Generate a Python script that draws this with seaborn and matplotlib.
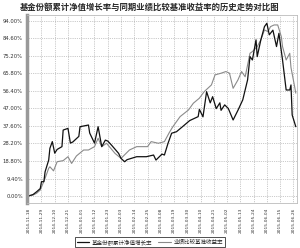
import matplotlib
matplotlib.use('Agg')
import matplotlib.pyplot as plt
import seaborn as sns
import pandas as pd

# days since 2014-11-18, values in %
fund_days = [0, 4, 7, 10, 11, 13, 14, 17, 18, 20, 22, 24, 28, 29, 33, 35, 37, 42, 43, 50,
             51, 55, 58, 61, 64, 66, 69, 75, 77, 80, 82, 90, 98, 104, 106, 111, 113, 116, 119, 123,
             128, 134, 141, 142, 145, 148, 151, 153, 156, 159, 160, 163, 166, 170, 174, 178, 182, 184, 186, 189,
             190, 193, 196, 198, 200, 203, 206, 208, 211, 214, 217, 218, 219, 222]
fund_vals = [0.0, 0.8, 2.3, 4.0, 7.7, 7.7, 13.0, 19.3, 25.6, 29.2, 23.0, 25.0, 26.5, 35.4, 36.3, 28.4, 29.0, 32.0, 37.2, 38.1,
             33.8, 28.4, 37.2, 26.5, 30.0, 29.5, 27.4, 22.9, 20.2, 18.4, 19.5, 21.1, 21.1, 22.0, 19.3, 22.5, 22.0, 28.3, 33.7, 34.5,
             37.2, 40.5, 42.6, 46.5, 42.5, 56.0, 50.0, 53.3, 46.9, 50.0, 46.0, 48.9, 47.0, 40.8, 46.0, 51.6, 62.3, 74.8, 73.0, 83.8,
             74.8, 83.8, 90.9, 92.7, 86.5, 89.0, 80.2, 87.3, 73.0, 56.9, 56.9, 59.6, 43.5, 37.2]

bench_days = [0, 4, 7, 10, 14, 17, 18, 21, 24, 29, 33, 36, 40, 46, 50, 55, 58, 61, 65, 72,
              77, 84, 90, 99, 102, 108, 113, 117, 120, 126, 133, 137, 142, 146, 152, 155, 160, 164, 167, 170,
              174, 177, 180, 184, 186, 190, 193, 196, 199, 201, 204, 207, 210, 211, 214, 217, 218, 221, 222]
bench_vals = [0.0, 0.5, 1.5, 3.2, 9.5, 14.9, 15.7, 13.5, 18.4, 19.0, 21.1, 17.5, 21.5, 24.7, 24.7, 26.5, 31.0, 26.5, 28.3, 22.9,
              20.2, 24.7, 26.5, 26.5, 29.2, 28.3, 29.2, 34.0, 37.2, 42.6, 46.2, 49.8, 52.5, 56.0, 59.6, 65.0, 65.9, 66.8, 65.9, 57.8,
              62.3, 66.8, 64.0, 76.6, 77.5, 80.2, 83.8, 89.1, 88.2, 90.9, 91.8, 91.8, 85.5, 80.2, 73.0, 76.6, 69.0, 58.8, 55.2]

yticks = [0.0, 9.4, 18.8, 28.2, 37.6, 47.0, 56.4, 65.8, 75.2, 84.6, 94.0]
xtick_labels = ['2014-11-18', '2014-11-29', '2014-12-10', '2014-12-21', '2015-01-01', '2015-01-12',
                '2015-01-23', '2015-02-03', '2015-02-14', '2015-02-25', '2015-03-08', '2015-03-19',
                '2015-03-30', '2015-04-10', '2015-04-21', '2015-05-02', '2015-05-13', '2015-05-24',
                '2015-06-04', '2015-06-15', '2015-06-26']

title = '基金份额累计净值增长率与同期业绩比较基准收益率的历史走势对比图'
fund_name = '基金份额累计净值增长率'
bench_name = '业绩比较基准收益率'

sns.set_style('white')
plt.rcParams['font.family'] = ['Noto Sans CJK SC', 'DejaVu Sans']

start = pd.Timestamp('2014-11-18')
xticks = [(pd.Timestamp(s) - start).days for s in xtick_labels]

fund = pd.DataFrame({'day': fund_days, 'val': fund_vals})
bench = pd.DataFrame({'day': bench_days, 'val': bench_vals})

fig = plt.figure(figsize=(3.0, 2.48), dpi=100)
ax = fig.add_axes([0.09, 0.181, 0.90, 0.759])

sns.lineplot(data=bench, x='day', y='val', ax=ax, color='#8a8a8a', lw=0.8, label=bench_name)
sns.lineplot(data=fund, x='day', y='val', ax=ax, color='#111111', lw=0.9, label=fund_name)

ax.set_xlim(-1, 223)
ax.set_ylim(-3.8, 97.2)
ax.set_xticks(xticks)
ax.set_xticklabels(xtick_labels, rotation=90, fontsize=3.2, family='DejaVu Sans', color='#333333')
ax.set_yticks(yticks)
ax.set_yticklabels([f'{v:.2f}%' for v in yticks], fontsize=3.8, family='DejaVu Sans', color='#333333')
ax.set_xlabel('')
ax.set_ylabel('')
ax.tick_params(length=1.5, width=0.4, pad=1.5, color='#666666')
ax.grid(True, linestyle=':', color='#999999', lw=0.5)

for s in ['top', 'right', 'bottom']:
    ax.spines[s].set_color('#bbbbbb')
    ax.spines[s].set_linewidth(0.6)
ax.spines['left'].set_color('#999999')
ax.spines['left'].set_linewidth(2.5)

fig.text(0.5, 0.972, title, ha='center', va='center', fontsize=6.0, fontweight='bold')

h, l = ax.get_legend_handles_labels()
ax.get_legend().remove()
leg = fig.legend(h[::-1], l[::-1], loc='center', bbox_to_anchor=(0.5, 0.024), ncol=2,
                 fontsize=4.0, frameon=True, fancybox=False, handlelength=2.2,
                 columnspacing=1.0, handletextpad=0.5, borderpad=0.4)
leg.get_frame().set_edgecolor('black')
leg.get_frame().set_linewidth(0.6)

plt.savefig('out.png', dpi=100)
